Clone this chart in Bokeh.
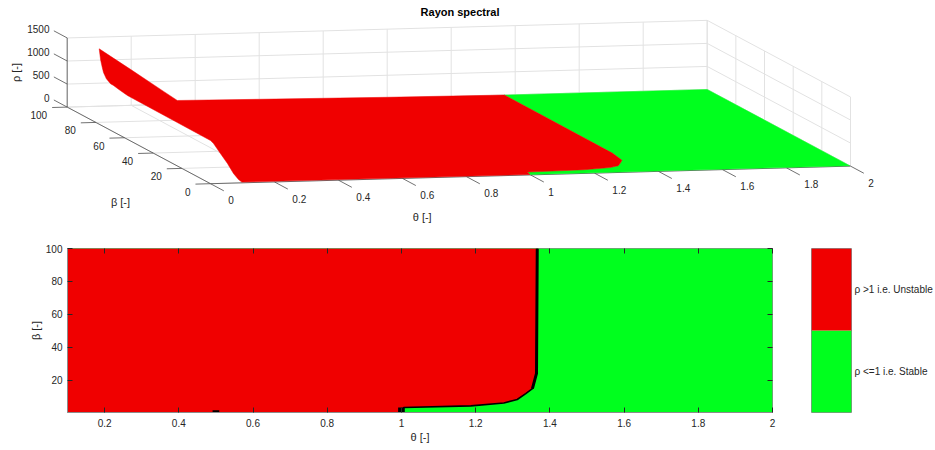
import numpy as np
from bokeh.plotting import figure
from bokeh.layouts import column, row
from bokeh.models import Range1d, FactorRange, LinearAxis, FixedTicker, NumeralTickFormatter, CustomJSTickFormatter
from bokeh.embed import file_html
from bokeh.resources import INLINE
from bokeh.core.properties import value

# ---------------- data ----------------
theta_lim = [0.1, 2.0]
beta_lim = [0.5, 100.0]

# stability limit (rho = 1): theta versus beta
bnd_beta = [0.5, 3.5, 4.5, 6.3, 8.4, 12.0, 15.0, 24.2, 100.0]
bnd_theta = [1.000, 1.006, 1.187, 1.276, 1.312, 1.335, 1.353, 1.364, 1.366]

# isolated undetermined cells (black) at the bottom of the map
black_theta = [0.5, 1.0]
black_beta = [1.8, 3.5]

# spectral radius along the surface edge theta = 0.1, versus beta
left_beta = [0.5, 2.8, 6.3, 10.5, 15.4, 20.2, 22.3, 50.0, 80.3, 86.0, 90.0, 92.1, 95.0, 97.0, 97.9, 99.0, 100.0]
left_rho = [7, 26, 98, 245, 380, 516, 547, 553, 560, 590, 616, 618, 680, 781, 881, 1020, 1245]

# spectral radius along the surface edge beta = 100, versus theta
back_theta = [0.1, 0.2, 0.3, 0.344, 0.6, 1.0, 1.366, 2.0]
back_rho = [1245, 770, 289, 78, 55, 22, 1, 0.5]

# 3-D box and ticks
box_theta = [0.0, 2.0]
box_beta = [0.0, 100.0]
box_rho = [0.0, 1500.0]
theta_ticks3d = [0.0, 0.2, 0.4, 0.6, 0.8, 1.0, 1.2, 1.4, 1.6, 1.8, 2.0]
theta_labels3d = ["0", "0.2", "0.4", "0.6", "0.8", "1", "1.2", "1.4", "1.6", "1.8", "2"]
beta_ticks3d = [0, 20, 40, 60, 80, 100]
rho_ticks3d = [0, 500, 1000, 1500]

# 2-D map ticks and legend
theta_ticks2d = [0.2, 0.4, 0.6, 0.8, 1.0, 1.2, 1.4, 1.6, 1.8, 2.0]
beta_ticks2d = [20, 40, 60, 80, 100]
legend_labels = ["\u03c1 <=1 i.e. Stable", "\u03c1 >1 i.e. Unstable"]

# ---------------- style ----------------
RED = "#f00000"
GREEN = "#00ff1e"
TXT = "#262626"
AXC = "#4d4d4d"
GRIDC = "#e2e2e2"
FONT = "Liberation Sans"

# orthographic view (window pixels)
O = (210.0, 183.2)
UX = (320.0, -8.8)
UY = (-1.433, -0.766)
UZ = (0.0, -0.0461)


def proj(t, b, r):
    t = np.asarray(t, float)
    b = np.asarray(b, float)
    r = np.asarray(r, float)
    return (O[0] + UX[0] * t + UY[0] * b + UZ[0] * r,
            O[1] + UX[1] * t + UY[1] * b + UZ[1] * r)


def seg(p0, p1):
    x0, y0 = proj(*p0)
    x1, y1 = proj(*p1)
    return [float(x0), float(x1)], [float(y0), float(y1)]


# ---------------- 3-D panel ----------------
pA = figure(width=935, height=228, x_range=Range1d(0, 935), y_range=Range1d(228, 0),
            output_backend="svg", toolbar_location=None, min_border=0)
pA.axis.visible = False
pA.grid.visible = False
pA.outline_line_color = None

t0, t1 = box_theta
b0, b1 = box_beta
r0, r1 = box_rho
gx, gy = [], []
for t in theta_ticks3d:
    for a, b in (((t, b1, r0), (t, b1, r1)), ((t, b0, r0), (t, b1, r0))):
        xs, ys = seg(a, b); gx.append(xs); gy.append(ys)
for r in rho_ticks3d:
    for a, b in (((t0, b1, r), (t1, b1, r)), ((t1, b0, r), (t1, b1, r))):
        xs, ys = seg(a, b); gx.append(xs); gy.append(ys)
for bb in beta_ticks3d:
    for a, b in (((t1, bb, r0), (t1, bb, r1)), ((t0, bb, r0), (t1, bb, r0))):
        xs, ys = seg(a, b); gx.append(xs); gy.append(ys)
pA.multi_line(gx, gy, line_color=GRIDC, line_width=1)

ax_x, ax_y = [], []
for a, b in (((t0, b0, r0), (t1, b0, r0)), ((t0, b0, r0), (t0, b1, r0)), ((t0, b1, r0), (t0, b1, r1))):
    xs, ys = seg(a, b); ax_x.append(xs); ax_y.append(ys)
for t in theta_ticks3d:
    xs, ys = seg((t, b0, r0), (t, b0 - 9.3, r0)); ax_x.append(xs); ax_y.append(ys)
for bb in beta_ticks3d:
    xs, ys = seg((t0, bb, r0), (t0 - 0.047, bb, r0)); ax_x.append(xs); ax_y.append(ys)
for r in rho_ticks3d:
    xs, ys = seg((t0, b1, r), (t0, b1 + 9.3, r)); ax_x.append(xs); ax_y.append(ys)
pA.multi_line(ax_x, ax_y, line_color=AXC, line_width=0.8)

# surface: stable (green) part
gt = [bnd_theta[0], theta_lim[1], theta_lim[1]]
gb = [beta_lim[0], beta_lim[0], beta_lim[1]]
gr = [1.0, 0.0, back_rho[-1]]
for t, r in zip(back_theta[::-1], back_rho[::-1]):
    if t >= bnd_theta[-1] and t < theta_lim[1]:
        gt.append(t); gb.append(beta_lim[1]); gr.append(r)
for t, b in zip(bnd_theta[::-1], bnd_beta[::-1]):
    gt.append(t); gb.append(b); gr.append(1.0)
sx, sy = proj(gt, gb, gr)
pA.patch(list(sx), list(sy), fill_color=GREEN, line_color=GREEN, line_width=0.5)

# surface: unstable (red) part
rt = [theta_lim[0]]
rb = [beta_lim[0]]
rr = [left_rho[0]]
for t, b in zip(bnd_theta, bnd_beta):
    rt.append(t); rb.append(b); rr.append(1.0)
for t, r in zip(back_theta[::-1], back_rho[::-1]):
    if t < bnd_theta[-1]:
        rt.append(t); rb.append(beta_lim[1]); rr.append(r)
for b, r in zip(left_beta[::-1], left_rho[::-1]):
    rt.append(theta_lim[0]); rb.append(b); rr.append(r)
sx, sy = proj(rt, rb, rr)
pA.patch(list(sx), list(sy), fill_color=RED, line_color=RED, line_width=0.5)

# tick labels
tk = dict(text_font=value(FONT), text_font_size="10px", text_color=TXT)
x, y = proj(theta_ticks3d, b0 - 9.3, r0)
pA.text(x=list(x + 4.5), y=list(y + 9.5), text=theta_labels3d, text_align="left", text_baseline="middle", **tk)
x, y = proj(t0 - 0.047, beta_ticks3d, r0)
pA.text(x=list(x - 5), y=list(y + 7.5), text=[str(b) for b in beta_ticks3d], text_align="right", text_baseline="middle", **tk)
x, y = proj(t0, b1 + 9.3, rho_ticks3d)
pA.text(x=list(x - 4.4), y=list(y - 1.8), text=[str(r) for r in rho_ticks3d], text_align="right", text_baseline="middle", **tk)

lb = dict(text_font=value(FONT), text_font_size="11px", text_color=TXT, text_align="center", text_baseline="middle")
pA.text(x=[421.7], y=[216.7], text=["\u03b8 [-]"], **lb)
pA.text(x=[120], y=[201], text=["\u03b2 [-]"], **lb)
pA.text(x=[15], y=[72], text=["\u03c1 [-]"], angle=np.pi / 2, **lb)
pA.text(x=[459.5], y=[11.7], text=["Rayon spectral"], text_font_style="bold",
        text_font=value(FONT), text_font_size="11px", text_color="black", text_align="center", text_baseline="middle")

# ---------------- 2-D stability map ----------------
pB = figure(width=792, height=220, x_range=Range1d(*theta_lim), y_range=Range1d(*beta_lim),
            output_backend="svg", toolbar_location=None,
            min_border_left=67, min_border_right=20, min_border_top=20, min_border_bottom=36)
pB.grid.visible = False
pB.quad(left=[theta_lim[0]], right=[theta_lim[1]], bottom=[beta_lim[0]], top=[beta_lim[1]],
        fill_color=GREEN, line_color=None)
pB.patch([theta_lim[0]] + bnd_theta + [theta_lim[0]], [beta_lim[0]] + bnd_beta + [beta_lim[1]],
         fill_color=RED, line_color=None)
pB.line(bnd_theta, bnd_beta, line_color="black", line_width=1.6)
pB.line(bnd_theta[-3:], bnd_beta[-3:], line_color="black", line_width=3)
pB.quad(left=[t - 0.009 for t in black_theta], right=[t + 0.009 for t in black_theta],
        bottom=[beta_lim[0]] * len(black_theta), top=black_beta, fill_color="black", line_color=None)

pB.xaxis.ticker = FixedTicker(ticks=theta_ticks2d)
pB.xaxis.formatter = NumeralTickFormatter(format="0.[0]")
pB.yaxis.ticker = FixedTicker(ticks=beta_ticks2d)
pB.xaxis.axis_label = "\u03b8 [-]"
pB.yaxis.axis_label = "\u03b2 [-]"
for ax in (pB.xaxis[0], pB.yaxis[0]):
    ax.major_tick_in = 5
    ax.major_tick_out = 0
    ax.minor_tick_in = 0
    ax.minor_tick_out = 0
    ax.axis_line_color = "#8c8c8c"
    ax.major_tick_line_color = TXT
    ax.major_label_text_font = FONT
    ax.major_label_text_font_size = "10px"
    ax.major_label_text_color = TXT
    ax.axis_label_text_font = FONT
    ax.axis_label_text_font_size = "11px"
    ax.axis_label_text_font_style = "normal"
    ax.axis_label_text_color = TXT
    ax.axis_label_standoff = 1
pB.xaxis.major_label_standoff = 6
pB.yaxis.major_label_standoff = 5
for loc, tk_ in (("above", theta_ticks2d), ("right", beta_ticks2d)):
    ax = LinearAxis(ticker=FixedTicker(ticks=tk_), formatter=CustomJSTickFormatter(code="return ''"),
                    major_tick_in=5, major_tick_out=0, minor_tick_in=0, minor_tick_out=0,
                    axis_line_color=None, major_tick_line_color=TXT, major_label_standoff=0,
                    major_label_text_font_size="1px")
    pB.add_layout(ax, loc)
pB.outline_line_color = "#8c8c8c"

# ---------------- legend bar ----------------
pC = figure(width=143, height=220, x_range=Range1d(0, 1), y_range=FactorRange(factors=legend_labels),
            y_axis_location="right", output_backend="svg", toolbar_location=None,
            min_border_left=19, min_border_right=0, min_border_top=20, min_border_bottom=36)
pC.rect(x=[0.5, 0.5], y=legend_labels, width=1, height=1, fill_color=[GREEN, RED], line_color=None)
pC.xaxis.visible = False
pC.grid.visible = False
pC.outline_line_color = "#8c8c8c"
ya = pC.yaxis[0]
ya.major_tick_in = 0
ya.major_tick_out = 0
ya.axis_line_color = None
ya.major_label_standoff = 3
ya.major_label_text_font = FONT
ya.major_label_text_font_size = "10px"
ya.major_label_text_color = TXT

layout = column(pA, row(pB, pC))
open("out.html", "w").write(file_html(layout, INLINE))
